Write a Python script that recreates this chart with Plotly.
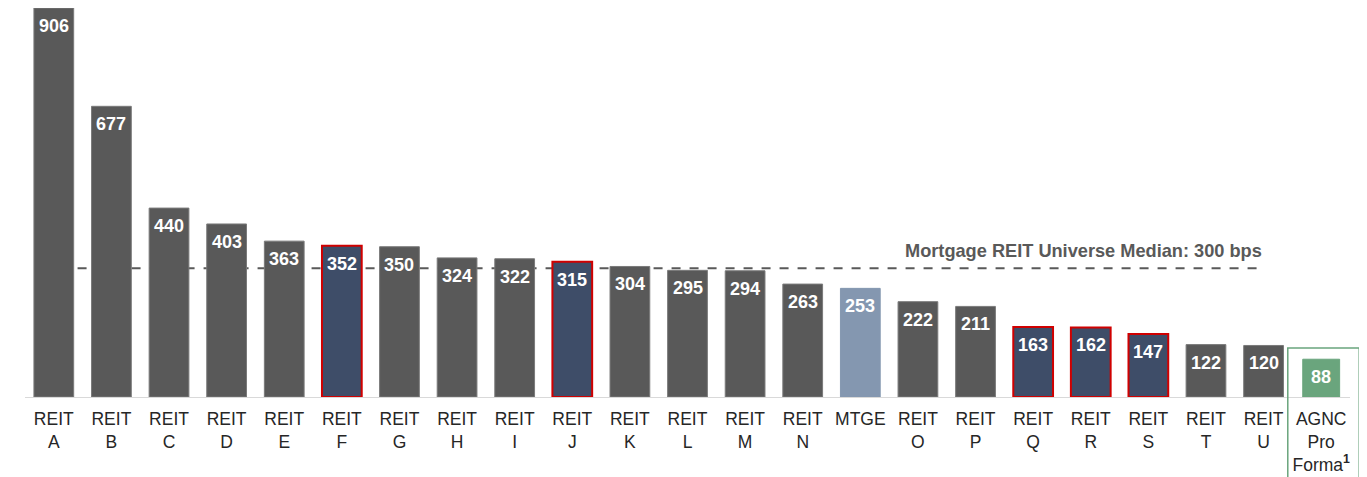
import plotly.graph_objects as go

categories = ["REIT<br>A", "REIT<br>B", "REIT<br>C", "REIT<br>D", "REIT<br>E", "REIT<br>F",
              "REIT<br>G", "REIT<br>H", "REIT<br>I", "REIT<br>J", "REIT<br>K", "REIT<br>L",
              "REIT<br>M", "REIT<br>N", "MTGE", "REIT<br>O", "REIT<br>P", "REIT<br>Q",
              "REIT<br>R", "REIT<br>S", "REIT<br>T", "REIT<br>U", "AGNC<br>Pro<br>Forma<sup><b>1</b></sup>"]
values = [906, 677, 440, 403, 363, 352, 350, 324, 322, 315, 304, 295, 294, 263, 253,
          222, 211, 163, 162, 147, 122, 120, 88]
groups = ["peer", "peer", "peer", "peer", "peer", "hl", "peer", "peer", "peer", "hl",
          "peer", "peer", "peer", "peer", "mtge", "peer", "peer", "hl", "hl", "hl",
          "peer", "peer", "agnc"]
median_value = 300
median_label = "Mortgage REIT Universe Median: 300 bps"

fill = {"peer": "#595959", "hl": "#3E4D68", "mtge": "#8497B0", "agnc": "#6AA57D"}
line_c = {"peer": "#7a7a7a", "hl": "#D00000", "mtge": "#8497B0", "agnc": "#6AA57D"}
line_w = {"peer": 1, "hl": 2, "mtge": 1, "agnc": 1}
widths = {"peer": 0.69, "hl": 0.69, "mtge": 0.69, "agnc": 0.64}

FONT = "Arial, Liberation Sans, sans-serif"
n = len(categories)
fig = go.Figure()
fig.add_trace(go.Bar(
    x=list(range(n)), y=values,
    width=[widths[g] for g in groups],
    marker=dict(color=[fill[g] for g in groups],
                line=dict(color=[line_c[g] for g in groups], width=[line_w[g] for g in groups])),
    hoverinfo="skip",
))

# value labels inside bars, near the top
for i, v in enumerate(values):
    fig.add_annotation(xref="x", yref="y", x=i, y=v, yshift=-18, yanchor="middle",
                       text="<b>%d</b>" % v, showarrow=False,
                       font=dict(family=FONT, size=18, color="white"))

# median dashed line
fig.add_shape(type="line", xref="x", yref="y", x0=0.1, x1=21, y0=median_value, y1=median_value,
              line=dict(color="#595959", width=2, dash="dash"), layer="below")
fig.add_annotation(xref="x", yref="y", x=21, y=median_value, xanchor="right", yanchor="bottom",
                   yshift=5, text="<b>" + median_label + "</b>", showarrow=False,
                   font=dict(family=FONT, size=18.2, color="#595959"))

# highlight box around AGNC
idx = n - 1
fig.add_shape(type="rect", xref="paper", yref="paper",
              x0=(idx - 0.58 + 0.5) / n, x1=(idx + 0.66 + 0.5) / n,
              y0=-0.3, y1=0.126,
              line=dict(color="#6AA57D", width=1.5), fillcolor="rgba(0,0,0,0)")

fig.update_layout(
    width=1359, height=469,
    margin=dict(l=17, r=17, t=0, b=80, autoexpand=False),
    plot_bgcolor="white", paper_bgcolor="white",
    showlegend=False,
    xaxis=dict(tickmode="array", tickvals=list(range(n)), ticktext=categories,
               range=[-0.5, n - 0.5], showline=True, linecolor="#d9d9d9", linewidth=1,
               showgrid=False, ticks="", zeroline=False, automargin=False,
               ticklabelstandoff=6,
               tickfont=dict(family=FONT, size=17.5, color="#262626")),
    yaxis=dict(range=[0, 906], visible=False, showgrid=False, zeroline=False),
)

fig.write_html("out.html")
